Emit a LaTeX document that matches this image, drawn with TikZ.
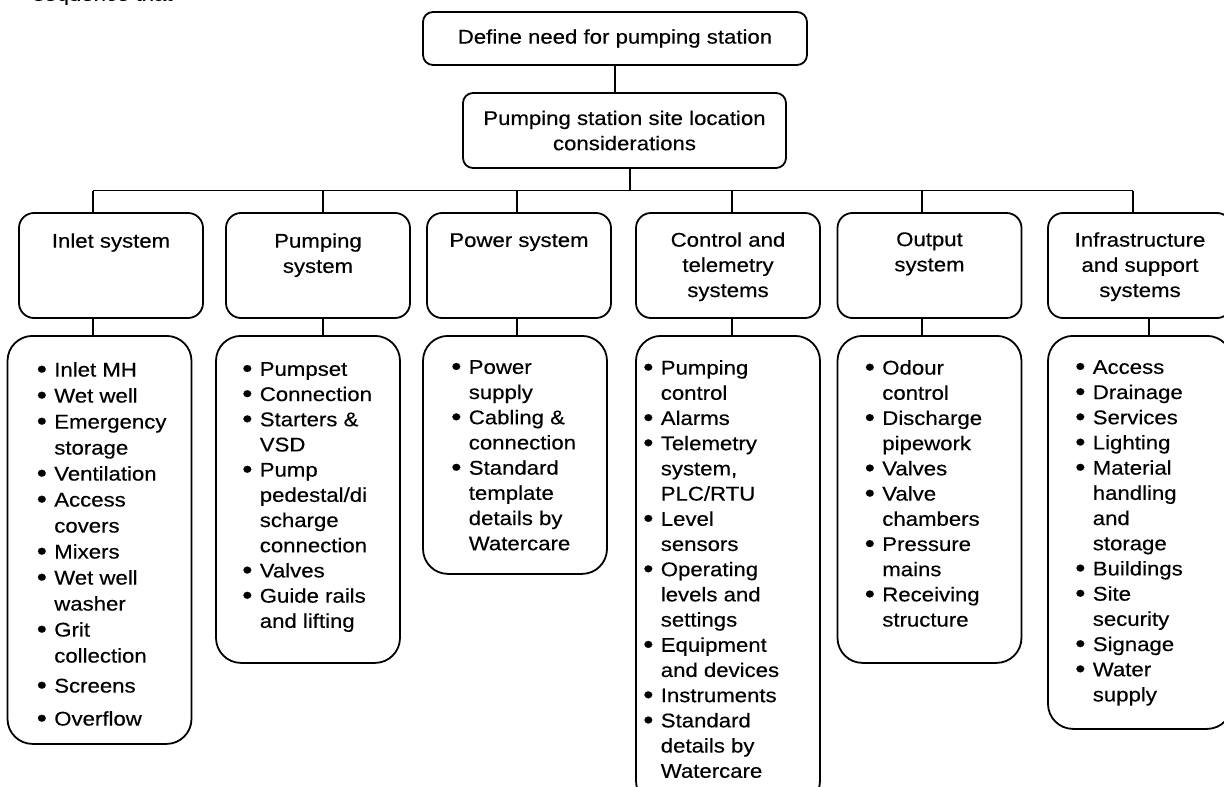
\documentclass[tikz,border=0pt]{standalone}
\usepackage{fontspec}
\setmainfont{Liberation Sans}[FakeStretch=1.12, FakeBold=0.4]
\usepackage{tikz}
\usetikzlibrary{positioning}
\newcommand{\boxfont}{\fontsize{19.8}{25.2}\selectfont}
\newcommand{\bul}{\makebox[17.5pt][l]{\raisebox{-1.2pt}{\scalebox{1.3}{\textbullet}}}}
\newcommand{\hng}{\hspace*{17.5pt}}
\tikzset{
    topbox/.style={
        draw,
        rounded corners=10pt,
        line width=1.8pt,
        align=center,
        font=\boxfont,
        inner sep=0pt
    },
    catbox/.style={
        draw,
        rounded corners=15pt,
        line width=1.8pt,
        minimum width=184pt,
        minimum height=105pt,
        inner sep=0pt
    },
    listbox/.style={
        draw,
        rounded corners=25pt,
        line width=1.8pt,
        minimum width=184pt,
        anchor=north,
        inner sep=0pt
    },
    headtext/.style={
        align=center,
        font=\boxfont,
        inner sep=0pt
    },
    itemtext/.style={
        align=left,
        font=\boxfont,
        inner sep=0pt
    },
    link/.style={
        line width=1.8pt
    }
}

\begin{document}
\begin{tikzpicture}[x=1pt, y=-1pt]
\useasboundingbox (0,0) rectangle (1224,787);
\clip (0,0) rectangle (1224,787);

%---------------- Top ----------------

\node[font=\boxfont, anchor=base west, inner sep=0pt] (prev) at (33,0.8) {sequence that};

\node[topbox, minimum width=384pt, minimum height=53pt] (need) at (615,38.5) {Define need for pumping station};
\node[topbox, minimum width=323pt, minimum height=75pt] (site) at (624.5,130.5) {Pumping station site location\\considerations};

\draw[link] (need.south) -- (need.south |- site.north);

%---------------- Bus ----------------

\coordinate (s) at (630,190.5);
\coordinate (b1) at (93,190.5);
\coordinate (b2) at (323,190.5);
\coordinate (b3) at (517,190.5);
\coordinate (b4) at (732,190.5);
\coordinate (b5) at (922,190.5);
\coordinate (b6) at (1133,190.5);

\draw[link] (site.south -| s) -- (s);
\draw[link] (b1) -- (b6);

%---------------- Systems ----------------

\node[catbox] (inlet) at (111,265.5) {};
\node[catbox] (pumping) at (318,265.5) {};
\node[catbox] (power) at (519,265.5) {};
\node[catbox] (control) at (728,265.5) {};
\node[catbox] (output) at (929.5,265.5) {};
\node[catbox] (infra) at (1140,265.5) {};

\node[headtext, below=21pt of inlet.north] (inlethead) {Inlet system};
\node[headtext, below=21pt of pumping.north] (pumpinghead) {Pumping\\system};
\node[headtext, below=21pt of power.north] (powerhead) {Power system};
\node[headtext, below=20pt of control.north] (controlhead) {Control and\\telemetry\\systems};
\node[headtext, below=20pt of output.north] (outputhead) {Output\\system};
\node[headtext, below=20pt of infra.north] (infrahead) {Infrastructure\\and support\\systems};

\foreach \b/\c in {b1/inlet, b2/pumping, b3/power, b4/control, b5/output, b6/infra}
    \draw[link] (\b) -- (\b |- \c.north);

%---------------- Lists ----------------

\node[listbox, minimum height=408pt] (inletlist) at (99.5,335) {};
\node[listbox, minimum height=327pt] (pumpinglist) at (308,335) {};
\node[listbox, minimum height=238pt] (powerlist) at (515,335) {};
\node[listbox, minimum height=470pt] (controllist) at (728,335) {};
\node[listbox, minimum height=327pt] (outputlist) at (929.5,335) {};
\node[listbox, minimum height=393pt] (infralist) at (1140,335) {};

\coordinate (k1) at (93,0);
\coordinate (k2) at (323,0);
\coordinate (k3) at (517,0);
\coordinate (k4) at (732,0);
\coordinate (k5) at (922,0);
\coordinate (k6) at (1149,0);

\foreach \k/\c in {k1/inlet, k2/pumping, k3/power, k4/control, k5/output, k6/infra}
    \draw[link] (\c.south -| \k) -- (\c list.north -| \k);

\node[itemtext, font=\fontsize{19.8}{26}\selectfont, below right=27pt and 30pt of inletlist.north west] (inletitems)
    {\bul Inlet MH\\ \bul Wet well\\ \bul Emergency\\ \hng storage\\ \bul Ventilation\\
     \bul Access\\ \hng covers\\ \bul Mixers\\ \bul Wet well\\ \hng washer\\ \bul Grit\\
     \hng collection\\[4pt] \bul Screens\\[7pt] \bul Overflow};
\node[itemtext, below right=27pt and 27pt of pumpinglist.north west] (pumpingitems)
    {\bul Pumpset\\ \bul Connection\\ \bul Starters \&\\ \hng VSD\\ \bul Pump\\
     \hng pedestal/di\\ \hng scharge\\ \hng connection\\ \bul Valves\\ \bul Guide rails\\
     \hng and lifting};
\node[itemtext, below right=25pt and 29pt of powerlist.north west] (poweritems)
    {\bul Power\\ \hng supply\\ \bul Cabling \&\\ \hng connection\\ \bul Standard\\
     \hng template\\ \hng details by\\ \hng Watercare};
\node[itemtext, below right=25pt and 8pt of controllist.north west] (controlitems)
    {\bul Pumping\\ \hng control\\ \bul Alarms\\ \bul Telemetry\\ \hng system,\\ \hng PLC/RTU\\
     \bul Level\\ \hng sensors\\ \bul Operating\\ \hng levels and\\ \hng settings\\
     \bul Equipment\\ \hng and devices\\ \bul Instruments\\ \bul Standard\\ \hng details by\\
     \hng Watercare};
\node[itemtext, below right=25pt and 28pt of outputlist.north west] (outputitems)
    {\bul Odour\\ \hng control\\ \bul Discharge\\ \hng pipework\\ \bul Valves\\ \bul Valve\\
     \hng chambers\\ \bul Pressure\\ \hng mains\\ \bul Receiving\\ \hng structure};
\node[itemtext, below right=25pt and 28pt of infralist.north west] (infraitems)
    {\bul Access\\ \bul Drainage\\ \bul Services\\ \bul Lighting\\ \bul Material\\ \hng handling\\
     \hng and\\ \hng storage\\ \bul Buildings\\ \bul Site\\ \hng security\\ \bul Signage\\
     \bul Water\\ \hng supply};

\end{tikzpicture}
\end{document}
